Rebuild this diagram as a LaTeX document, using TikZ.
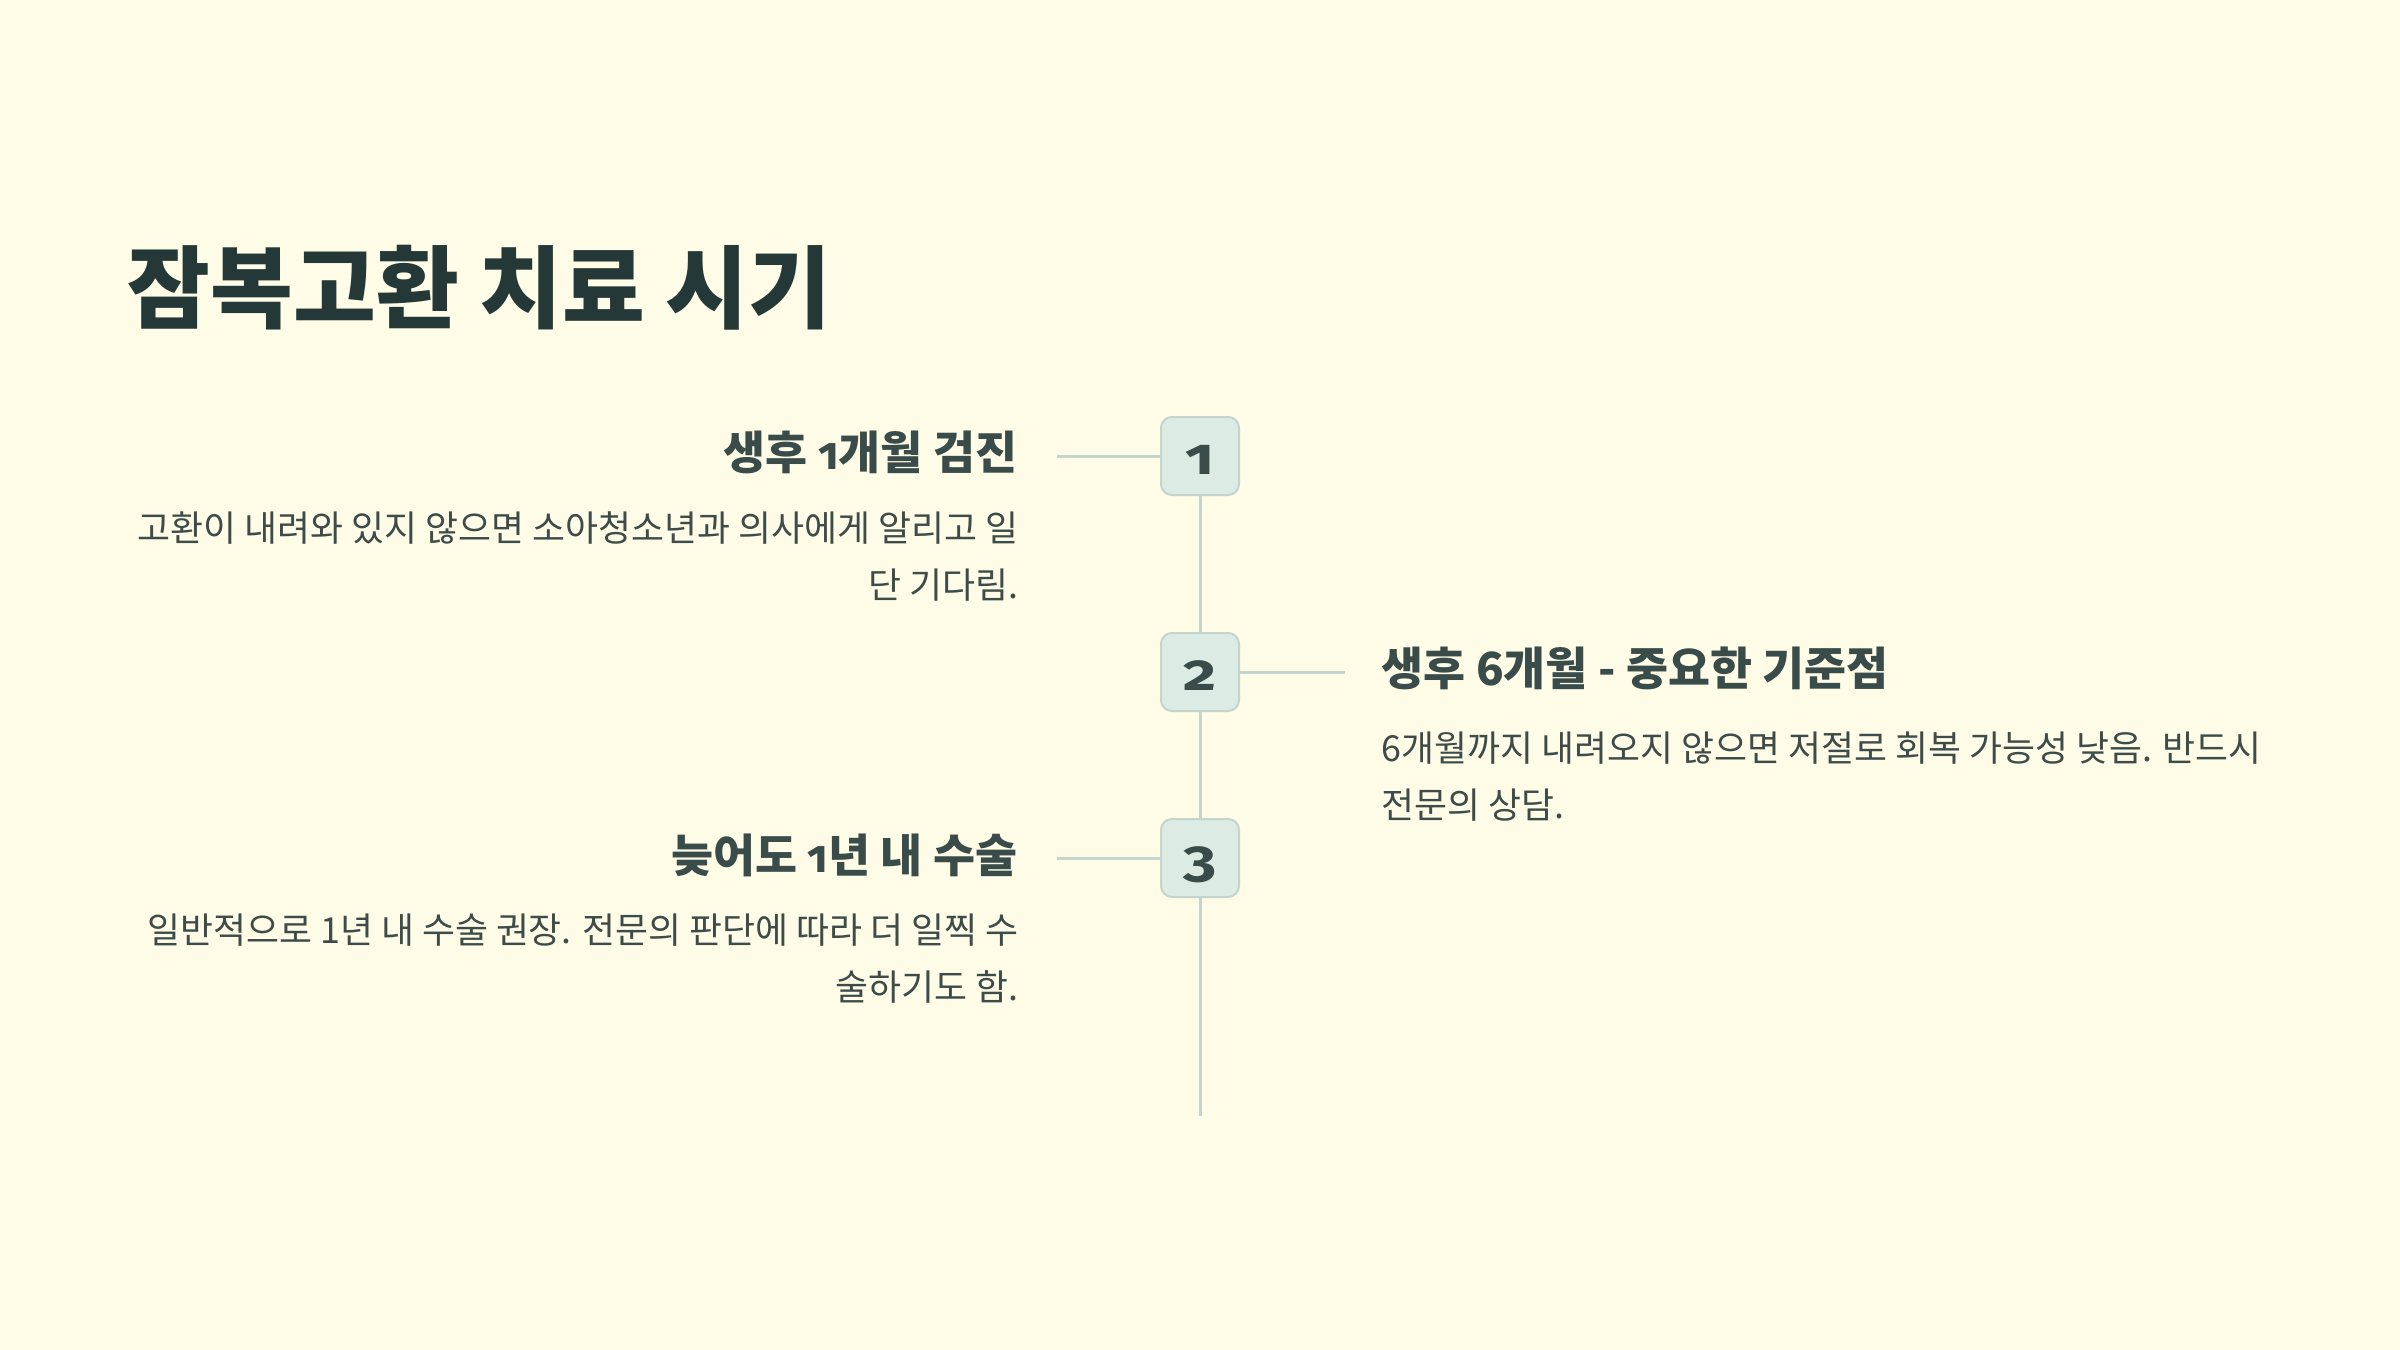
\documentclass[tikz,border=0pt]{standalone}
\usepackage{fontspec}
\setmainfont{Noto Sans CJK KR}
\newfontfamily\numfont{Fira Sans}[Numbers=OldStyle]
\definecolor{bgc}{HTML}{FEFCE7}
\definecolor{titlec}{HTML}{233837}
\definecolor{headc}{HTML}{394C4A}
\definecolor{bodyc}{HTML}{3D4B49}
\definecolor{linec}{HTML}{C3D5CD}
\definecolor{boxc}{HTML}{DCECE4}
\begin{document}
\begin{tikzpicture}[x=0.3pt,y=-0.3pt,
  titletext/.style={font=\fontsize{27pt}{30pt}\selectfont\bfseries, text=titlec, inner sep=0pt},
  headtext/.style={font=\fontsize{13.7pt}{16pt}\selectfont\bfseries, text=headc, inner sep=0pt},
  bodytext/.style={font=\fontsize{10.75pt}{17.1pt}\selectfont, text=bodyc, inner sep=0pt},
  numbox/.style={draw=linec, line width=0.6pt, fill=boxc, rounded corners=3.3pt,
    minimum width=23.4pt, minimum height=23.4pt, inner sep=0pt,
    text height=10.8pt, text depth=0pt,
    font=\numfont\bfseries\fontsize{15.4pt}{16pt}\selectfont, text=headc},
  tline/.style={draw=linec, line width=0.9pt}]
\fill[bgc] (0,0) rectangle (2400,1350);
\useasboundingbox (0,0) rectangle (2400,1350);

\node[titletext, anchor=base west] (title) at (127,322) {잠복고환 치료 시기};

\node[numbox] (b1) at (1200,456) {\scalebox{1.25}[1]{1}};
\node[numbox] (b2) at (1200,672) {\scalebox{1.25}[1]{2}};
\node[numbox] (b3) at (1200,858) {\scalebox{1.25}[1]{3}};

\coordinate (c1) at (1057,456);
\coordinate (c2) at (1345,672);
\coordinate (c3) at (1057,858);
\coordinate (cend) at (1200,1116);

\draw[tline] (b1.south) -- (b2.north);
\draw[tline] (b2.south) -- (b3.north);
\draw[tline] (b3.south) -- (cend);
\draw[tline] (c1) -- (b1.west);
\draw[tline] (b2.east) -- (c2);
\draw[tline] (c3) -- (b3.west);

\node[headtext, anchor=base east] (h1) at (1018,469) {생후 {\numfont 1}개월 검진};
\node[bodytext, anchor=north east, align=right] (t1) at (1019,511) {고환이 내려와 있지 않으면 소아청소년과 의사에게 알리고 일\\단 기다림.};

\node[headtext, anchor=base west] (h2) at (1381,685) {생후 6개월 - 중요한 기준점};
\node[bodytext, anchor=north west, align=left] (t2) at (1381,731) {6개월까지 내려오지 않으면 저절로 회복 가능성 낮음. 반드시\\전문의 상담.};

\node[headtext, anchor=base east] (h3) at (1018,872) {늦어도 {\numfont 1}년 내 수술};
\node[bodytext, anchor=north east, align=right] (t3) at (1019,913) {일반적으로 1년 내 수술 권장. 전문의 판단에 따라 더 일찍 수\\술하기도 함.};
\end{tikzpicture}
\end{document}
